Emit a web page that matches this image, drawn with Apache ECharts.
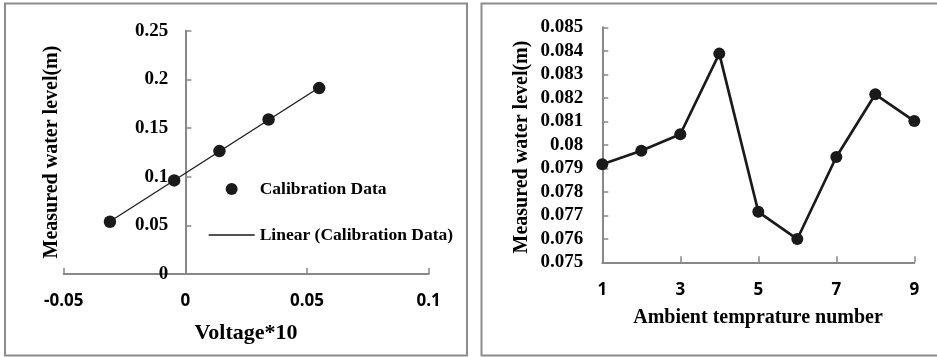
<!DOCTYPE html>
<html>
<head>
<meta charset="utf-8">
<script src="https://cdn.jsdelivr.net/npm/echarts@6/dist/echarts.min.js"></script>
<style>
  html, body { margin: 0; padding: 0; background: #ffffff; }
  #chart { width: 937px; height: 357px; }
</style>
</head>
<body>
<div id="chart"></div>
<script>
// Calibration run: sensor voltage (x10) against measured water level
const voltage = [-0.031, -0.0046, 0.014, 0.0342, 0.055];
const calLevel = [0.0537, 0.0962, 0.1263, 0.1588, 0.191];

// Repeat measurements at different ambient temperatures
const tempNumber = ['1', '2', '3', '4', '5', '6', '7', '8', '9'];
const tempLevel = [0.07917, 0.07975, 0.08045, 0.08388, 0.07715, 0.07599, 0.07948, 0.08215, 0.08101];

// Least-squares trendline through the calibration points
function linearFit(xs, ys) {
  const n = xs.length;
  const mx = xs.reduce((a, b) => a + b, 0) / n;
  const my = ys.reduce((a, b) => a + b, 0) / n;
  let sxy = 0, sxx = 0;
  for (let i = 0; i < n; i++) {
    sxy += (xs[i] - mx) * (ys[i] - my);
    sxx += (xs[i] - mx) * (xs[i] - mx);
  }
  const slope = sxy / sxx;
  return { slope, intercept: my - slope * mx };
}
const fit = linearFit(voltage, calLevel);
const xMin = Math.min(...voltage), xMax = Math.max(...voltage);
const trend = [[xMin, fit.intercept + fit.slope * xMin], [xMax, fit.intercept + fit.slope * xMax]];

const SERIF = '"Liberation Serif", "Times New Roman", serif';
const SANS = '"Open Sans", "Liberation Sans", sans-serif';
const AXIS_GRAY = '#888888';
const INK = '#1a1a1a';

const axisLine = { show: true, onZero: false, lineStyle: { color: AXIS_GRAY, width: 2 } };
const axisTick = { show: true, inside: true, length: 6, lineStyle: { color: AXIS_GRAY, width: 1.5 } };

// left panel: the value axis crosses the x axis at x = 0
const LEFT_GRID = { left: 63.7, top: 30.7, width: 365, height: 243.3 };
const X_RANGE = [-0.05, 0.1];
const yCrossOffset = -LEFT_GRID.width * (0 - X_RANGE[0]) / (X_RANGE[1] - X_RANGE[0]);

const chart = echarts.init(document.getElementById('chart'), null, { renderer: 'canvas' });

chart.setOption({
  backgroundColor: '#ffffff',
  animation: false,
  grid: [
    LEFT_GRID,
    { left: 602.3, top: 27.3, width: 312, height: 235 }
  ],
  xAxis: [
    {
      gridIndex: 0, type: 'value', min: X_RANGE[0], max: X_RANGE[1], interval: 0.05,
      axisLine: axisLine, axisTick: axisTick, splitLine: { show: false },
      axisLabel: { color: '#000', fontFamily: SANS, fontWeight: 'bold', fontSize: 17, margin: 19 }
    },
    {
      gridIndex: 1, type: 'category', data: tempNumber, boundaryGap: false,
      axisLine: axisLine,
      axisTick: Object.assign({}, axisTick, { interval: 1 }),
      splitLine: { show: false },
      axisLabel: { interval: 1, color: '#000', fontFamily: SANS, fontWeight: 'bold', fontSize: 17, margin: 19 }
    }
  ],
  yAxis: [
    {
      gridIndex: 0, type: 'value', min: 0, max: 0.25, interval: 0.05,
      position: 'left', offset: yCrossOffset,
      axisLine: axisLine, axisTick: axisTick, splitLine: { show: false },
      axisLabel: { color: '#000', fontFamily: SERIF, fontWeight: 'bold', fontSize: 19, margin: 17 }
    },
    {
      gridIndex: 1, type: 'value', min: 0.075, max: 0.085, interval: 0.001,
      axisLine: axisLine, axisTick: axisTick, splitLine: { show: false },
      axisLabel: { color: '#000', fontFamily: SERIF, fontWeight: 'bold', fontSize: 19, margin: 19 }
    }
  ],
  legend: {
    orient: 'vertical',
    left: 208, top: 180,
    padding: 0,
    itemWidth: 46, itemHeight: 12, itemGap: 28,
    textStyle: { color: '#000', fontFamily: SERIF, fontWeight: 'bold', fontSize: 17.5 },
    data: [
      { name: 'Calibration Data', icon: 'circle' },
      { name: 'Linear (Calibration Data)', itemStyle: { opacity: 0 }, lineStyle: { color: INK, width: 1.3 } }
    ]
  },
  series: [
    {
      name: 'Linear (Calibration Data)', type: 'line', xAxisIndex: 0, yAxisIndex: 0,
      data: trend, symbol: 'none', lineStyle: { color: INK, width: 1.3 }, itemStyle: { color: INK }, z: 2
    },
    {
      name: 'Calibration Data', type: 'scatter', xAxisIndex: 0, yAxisIndex: 0,
      data: voltage.map((v, i) => [v, calLevel[i]]),
      symbol: 'circle', symbolSize: 12.5, itemStyle: { color: INK, opacity: 1 }, z: 3
    },
    {
      name: 'Ambient', type: 'line', xAxisIndex: 1, yAxisIndex: 1,
      data: tempLevel, symbol: 'circle', symbolSize: 12, showAllSymbol: true,
      lineStyle: { color: INK, width: 2.7 }, itemStyle: { color: INK }
    }
  ],
  graphic: [
    // panel frames
    { type: 'rect', shape: { x: 5, y: 3.5, width: 462, height: 352 }, style: { fill: 'none', stroke: '#8c8c8c', lineWidth: 2 }, silent: true },
    { type: 'rect', shape: { x: 481.5, y: 3.5, width: 470, height: 352 }, style: { fill: 'none', stroke: '#8c8c8c', lineWidth: 2 }, silent: true },
    // axis titles
    { type: 'text', x: 52, y: 152, rotation: Math.PI / 2, style: { text: 'Measured water level(m)', fill: '#000', font: 'bold 20px ' + SERIF, textAlign: 'center', textVerticalAlign: 'middle' } },
    { type: 'text', x: 246, y: 333, style: { text: 'Voltage*10', fill: '#000', font: 'bold 22px ' + SERIF, textAlign: 'center', textVerticalAlign: 'middle' } },
    { type: 'text', x: 521.7, y: 147, rotation: Math.PI / 2, style: { text: 'Measured water level(m)', fill: '#000', font: 'bold 20px ' + SERIF, textAlign: 'center', textVerticalAlign: 'middle' } },
    { type: 'text', x: 758, y: 318, style: { text: 'Ambient temprature number', fill: '#000', font: 'bold 20px ' + SERIF, textAlign: 'center', textVerticalAlign: 'middle' } }
  ]
});
</script>
</body>
</html>
